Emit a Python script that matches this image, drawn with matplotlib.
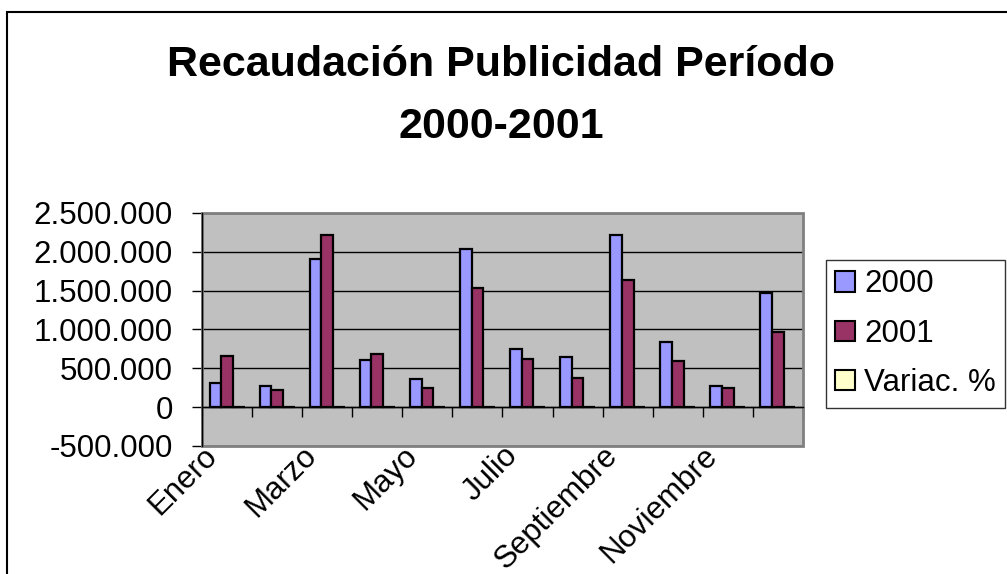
import numpy as np
import matplotlib.pyplot as plt
import matplotlib.transforms as mtransforms
from matplotlib.patches import Patch, Rectangle
from matplotlib.ticker import FuncFormatter, MultipleLocator

# data
meses = ['Enero', 'Febrero', 'Marzo', 'Abril', 'Mayo', 'Junio', 'Julio',
         'Agosto', 'Septiembre', 'Octubre', 'Noviembre', 'Diciembre']
rec_2000 = [315000, 272000, 1910000, 604000, 358000, 2030000, 750000,
            643000, 2210000, 837000, 268000, 1466000]
rec_2001 = [660000, 216000, 2210000, 678000, 251000, 1540000, 617000,
            380000, 1635000, 595000, 251000, 962000]
# percentages, far too small to show on this scale
variac = [110, -21, 16, 12, -30, -24, -18, -41, -26, -29, -6, -34]

c2000 = '#9999FF'
c2001 = '#993366'
cvar = '#FFFFCC'

plt.rcParams['font.family'] = ['Liberation Sans', 'DejaVu Sans']

fig = plt.figure(figsize=(10.07, 5.74), dpi=100)
ax = fig.add_axes([0.2006, 0.223, 0.5968, 0.406])
ax.set_facecolor('#C0C0C0')

x = np.arange(len(meses))
w = 0.233
ax.bar(x - w, rec_2000, w, color=c2000, edgecolor='black', linewidth=1.6, zorder=3)
ax.bar(x, rec_2001, w, color=c2001, edgecolor='black', linewidth=1.6, zorder=3)
ax.bar(x + w, variac, w, color=cvar, edgecolor='black', linewidth=1.6, zorder=3)

ax.set_xlim(-0.5, len(meses) - 0.5)
ax.set_ylim(-500000, 2500000)
ax.yaxis.set_major_locator(MultipleLocator(500000))
ax.yaxis.set_major_formatter(FuncFormatter(lambda v, p: f"{int(v):,}".replace(',', '.')))
ax.grid(axis='y', color='black', linewidth=1, zorder=1)
ax.tick_params(axis='y', direction='out', length=7, width=1, pad=14, labelsize=22.5)

# category axis sits at zero, ticks between the months
for s in ['top', 'right']:
    ax.spines[s].set_visible(False)
ax.spines['bottom'].set_position(('data', 0))
ax.spines['bottom'].set_linewidth(1)
ax.spines['bottom'].set_zorder(4)
ax.spines['left'].set_linewidth(1)
ax.set_xticks(np.arange(len(meses) + 1) - 0.5)
ax.set_xticklabels([])
ax.tick_params(axis='x', direction='out', length=7, width=1)

# plot area border
ax.add_patch(Rectangle((0, 0), 1, 1, transform=ax.transAxes, fill=False,
                       edgecolor='#808080', linewidth=2, zorder=4, clip_on=False))
ax.spines['left'].set_zorder(5)

# month labels (every other one), rotated under the plot
trans = ax.get_xaxis_transform() + mtransforms.ScaledTranslation(-9 / 100, -11 / 100, fig.dpi_scale_trans)
for i in x[::2]:
    ax.text(i, 0, meses[i], transform=trans, rotation=45, rotation_mode='anchor',
            ha='right', va='baseline', fontsize=22.5, clip_on=False)

# titles
fig.text(0.4975, (574 - 76) / 574, 'Recaudación Publicidad Período', ha='center',
         va='baseline', fontsize=31, fontweight='bold')
fig.text(0.4975, (574 - 138) / 574, '2000-2001', ha='center',
         va='baseline', fontsize=31, fontweight='bold')

handles = [Patch(facecolor=c2000, edgecolor='black', linewidth=1.5),
           Patch(facecolor=c2001, edgecolor='black', linewidth=1.5),
           Patch(facecolor=cvar, edgecolor='black', linewidth=1.5)]
leg = fig.legend(handles, ['2000', '2001', 'Variac. %'], loc='upper left',
                 bbox_to_anchor=(826 / 1007, (574 - 260) / 574),
                 fontsize=22.5, frameon=True, fancybox=False, handlelength=0.62,
                 handleheight=0.62, handletextpad=0.3, labelspacing=0.62,
                 borderpad=0.3, borderaxespad=0)
leg.get_frame().set_edgecolor('black')
leg.get_frame().set_linewidth(1)

# chart area border
fig.add_artist(Rectangle((7 / 1007, -0.1), 1.2, (574 - 12) / 574 + 0.1,
                         transform=fig.transFigure, fill=False,
                         edgecolor='black', linewidth=1.5))

fig.savefig('out.png', dpi=100)
